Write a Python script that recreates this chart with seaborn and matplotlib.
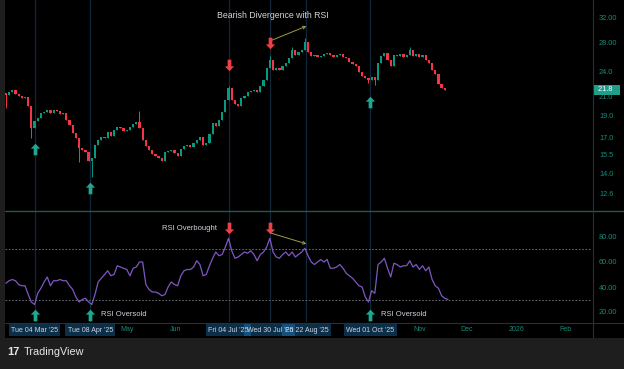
import matplotlib
matplotlib.use("Agg")
import matplotlib.pyplot as plt
import matplotlib.transforms as mtransforms
from matplotlib.path import Path
from matplotlib.patches import Rectangle
from matplotlib.lines import Line2D
from matplotlib.ticker import NullLocator
import numpy as np
import pandas as pd
import seaborn as sns

# 2-day candles (Feb 14 2025 -> Nov 19 2025)
start_date = "2025-02-14"
first_open = 21.4
close = [
    21.2, 21.6, 21.8, 21.3, 21.1, 20.9, 21.0, 20.0, 17.8, 18.5,
    18.8, 19.3, 19.4, 19.6, 19.3, 19.6, 19.5, 19.2, 19.3, 18.6,
    18.1, 17.4, 16.9, 16.05, 15.9, 15.7, 15.0, 15.2, 16.3, 16.75,
    17.0, 16.9, 17.5, 17.1, 17.65, 17.95, 17.85, 17.55, 17.65, 17.95,
    18.2, 18.4, 17.85, 16.75, 16.2, 15.9, 15.55, 15.4, 15.2, 15.0,
    15.7, 15.8, 15.9, 15.6, 15.4, 16.0, 16.2, 16.3, 16.1, 16.5,
    16.75, 17.0, 16.3, 16.5, 17.3, 18.3, 18.0, 18.6, 19.45, 20.67,
    22.0, 20.67, 20.25, 20.0, 20.9, 21.1, 21.55, 21.7, 21.8, 21.55,
    22.2, 23.0, 24.45, 25.5, 24.2, 24.45, 24.2, 24.7, 25.1, 25.8,
    26.9, 26.2, 26.6, 26.9, 28.0, 26.6, 26.0, 26.2, 25.9, 26.0,
    26.4, 26.5, 26.2, 25.9, 26.2, 26.4, 25.9, 25.8, 25.3, 25.0,
    24.7, 23.95, 23.45, 23.2, 22.97, 23.3, 22.97, 25.1, 26.0, 26.5,
    25.5, 24.7, 26.2, 26.0, 26.4, 25.9, 26.2, 26.9, 26.0, 26.4,
    25.9, 26.2, 25.5, 25.1, 24.2, 23.7, 22.5, 22.0, 21.8, 21.8,
]
rsi = [
    43, 45, 46, 45, 42, 41, 41, 34, 28, 26,
    35, 39, 44, 48, 41, 45, 45, 46, 45, 45,
    41, 38, 32, 28, 30, 31, 28, 26, 34, 44,
    47, 50, 53, 49, 50, 57, 56, 55, 54, 49,
    55, 56, 60, 60, 42, 38, 36, 36, 35, 33,
    34, 40, 44, 42, 41, 49, 53, 54, 54, 56,
    61, 58, 49, 50, 57, 63, 68, 65, 66, 72,
    79, 69, 63, 64, 66, 68, 67, 69, 66, 61,
    66, 68, 72, 79, 68, 64, 63, 66, 68, 65,
    68, 64, 66, 68, 71, 65, 60, 58, 60, 62,
    60, 62, 55, 55, 56, 58, 55, 51, 49, 47,
    44, 41, 40, 32, 28, 37, 35, 58, 60, 63,
    55, 48, 59, 58, 56, 57, 57, 61, 56, 58,
    54, 57, 53, 56, 46, 41, 39, 33, 31, 30,
]
# visible long wicks (bar index -> price)
wick_high = {42: 19.5, 70: 22.3, 83: 26.0, 90: 27.3, 94: 28.6, 127: 27.3}
wick_low = {0: 19.8, 8: 16.9, 23: 14.9, 27: 13.8, 114: 22.6, 116: 22.4}

price_ticks = [12.6, 14.0, 15.5, 17.0, 19.0, 21.0, 24.0, 28.0, 32.0]
price_labels = ["12.6", "14.0", "15.5", "17.0", "19.0", "21.0", "24.0", "28.00", "32.00"]
rsi_ticks = [20, 40, 60, 80]
rsi_labels = ["20.00", "40.00", "60.00", "80.00"]
month_ticks = ["2025-05-01", "2025-06-01", "2025-11-01", "2025-12-01", "2026-01-01", "2026-02-01"]
month_labels = ["May", "Jun", "Nov", "Dec", "2026", "Feb"]
event_dates = ["2025-03-04", "2025-04-08", "2025-07-04", "2025-07-30", "2025-08-22", "2025-10-01"]
event_labels = ["Tue 04 Mar '25", "Tue 08 Apr '25", "Fri 04 Jul '25",
                "Wed 30 Jul '25", "Fri 22 Aug '25", "Wed 01 Oct '25"]

# signal arrows
oversold_dates = ["2025-03-04", "2025-04-08", "2025-10-01"]
oversold_price_pos = [15.95, 13.0, 20.45]
overbought_dates = ["2025-07-04", "2025-07-30"]
overbought_price_pos = [24.85, 27.9]
rsi_top_pos = 87
rsi_bottom_pos = 17.6

UP = "#089981"
DOWN = "#f23645"
AX_TXT = "#1a8a7a"
TXT = "#d1d4dc"
OLIVE = "#a39b45"

sns.set_style("dark")
plt.rcParams["font.family"] = ["Liberation Sans", "DejaVu Sans"]

df = pd.DataFrame({
    "date": pd.date_range(start_date, periods=len(close), freq="2D"),
    "close": close,
    "rsi": rsi,
})
df["open"] = [first_open] + close[:-1]
df["high"] = [max(o, c, wick_high.get(i, 0)) for i, (o, c) in enumerate(zip(df.open, df.close))]
df["low"] = [min(o, c, wick_low.get(i, 1e9)) for i, (o, c) in enumerate(zip(df.open, df.close))]
colors = np.where(df.close >= df.open, UP, DOWN)

W, H = 624, 369
fx = lambda px: px / W
fy = lambda py: 1 - py / H

fig = plt.figure(figsize=(6.24, 3.69), dpi=100)
fig.patch.set_facecolor("#1e1e1e")
fig.add_artist(Rectangle((fx(5), fy(338)), 1 - fx(5), 338 / H, transform=fig.transFigure,
                         fc="black", ec="none", zorder=-1))

ax_p = fig.add_axes([fx(5), fy(211), 587 / W, 211 / H])
ax_r = fig.add_axes([fx(5), fy(322), 587 / W, 110 / H])

xlim = (pd.Timestamp("2025-02-13 10:00"), pd.Timestamp("2026-02-17 14:00"))
for ax in (ax_p, ax_r):
    ax.set_facecolor("black")
    for s in ax.spines.values():
        s.set_visible(False)
    ax.grid(False)
    for d in event_dates:
        ax.axvline(pd.Timestamp(d), color="#10263a", lw=0.9, zorder=1)

# price panel
ax_p.set_yscale("log")
ax_p.vlines(df.date, df.low, df.high, colors=colors, lw=0.7, zorder=3)
body_bottom = np.minimum(df.open, df.close)
body_h = np.maximum(np.abs(df.close - df.open), 0.04)
ax_p.bar(df.date, body_h, bottom=body_bottom, width=1.4, color=colors, lw=0, zorder=4)
ax_p.set_xlim(*xlim)
ax_p.set_ylim(11.52, 35.0)
ax_p.yaxis.tick_right()
ax_p.set_yticks(price_ticks)
ax_p.set_yticklabels(price_labels)
ax_p.yaxis.set_minor_locator(NullLocator())
ax_p.set_xticks([])
ax_p.tick_params(axis="y", length=0, pad=5, labelsize=5.3, labelcolor=AX_TXT)

up_arrow = Path([(0, 1), (0.8, 0.15), (0.32, 0.15), (0.32, -1), (-0.32, -1),
                 (-0.32, 0.15), (-0.8, 0.15), (0, 1)], closed=True)
down_arrow = Path([(x, -y) for x, y in up_arrow.vertices], closed=True)

ax_p.scatter(pd.to_datetime(oversold_dates), oversold_price_pos, marker=up_arrow,
             s=70, color="#1fa78f", lw=0, zorder=6)
ax_p.scatter(pd.to_datetime(overbought_dates), overbought_price_pos, marker=down_arrow,
             s=70, color="#eb4047", lw=0, zorder=6)

ax_p.text(pd.Timestamp("2025-08-01"), 32.3, "Bearish Divergence with RSI", ha="center",
          va="center", fontsize=6.3, color=TXT)
ax_p.annotate("", xy=(pd.Timestamp("2025-08-22"), 30.5), xytext=(pd.Timestamp("2025-07-31"), 28.3),
              arrowprops=dict(arrowstyle="->", color=OLIVE, lw=0.7, shrinkA=0, shrinkB=0,
                              mutation_scale=5))

tr = mtransforms.blended_transform_factory(ax_p.transAxes, ax_p.transData)
ax_p.text(1.006, close[-1], f" {close[-1]:.1f}   ", transform=tr, ha="left", va="center",
          fontsize=5.3, color="white", clip_on=False,
          bbox=dict(boxstyle="square,pad=0.25", fc="#1f9e89", ec="none"))

# RSI panel
sns.lineplot(x=df.date, y=df.rsi, ax=ax_r, color="#7e57c2", lw=0.9, zorder=4)
for lvl in (70, 30):
    ax_r.axhline(lvl, color="#787b86", ls=(0, (2, 2)), lw=0.6, zorder=2)
ax_r.set_xlim(*xlim)
ax_r.set_ylim(12, 100)
ax_r.set_xlabel("")
ax_r.set_ylabel("")
ax_r.yaxis.tick_right()
ax_r.set_yticks(rsi_ticks)
ax_r.set_yticklabels(rsi_labels)
ax_r.set_xticks(pd.to_datetime(month_ticks))
ax_r.set_xticklabels(month_labels)
ax_r.tick_params(axis="y", length=0, pad=5, labelsize=5.3, labelcolor=AX_TXT)
ax_r.tick_params(axis="x", length=0, pad=3, labelsize=5, labelcolor=AX_TXT)

ax_r.scatter(pd.to_datetime(overbought_dates), [rsi_top_pos] * len(overbought_dates),
             marker=down_arrow, s=70, color="#eb4047", lw=0, zorder=6)
ax_r.scatter(pd.to_datetime(oversold_dates), [rsi_bottom_pos] * len(oversold_dates),
             marker=up_arrow, s=70, color="#1fa78f", lw=0, zorder=6)
ax_r.text(pd.Timestamp("2025-06-27"), 87, "RSI Overbought", ha="right", va="center",
          fontsize=5.5, color=TXT)
ax_r.text(pd.Timestamp("2025-04-15"), 17.6, "RSI Oversold", ha="left", va="center",
          fontsize=5.5, color=TXT)
ax_r.text(pd.Timestamp("2025-10-08"), 17.6, "RSI Oversold", ha="left", va="center",
          fontsize=5.5, color=TXT)
ax_r.annotate("", xy=(pd.Timestamp("2025-08-22"), 74.5), xytext=(pd.Timestamp("2025-07-31"), 83),
              arrowprops=dict(arrowstyle="->", color=OLIVE, lw=0.7, shrinkA=0, shrinkB=0,
                              mutation_scale=5))

# highlighted date labels on the time axis
for d, lab in zip(event_dates, event_labels):
    ax_r.text(pd.Timestamp(d), -0.073, lab, transform=ax_r.get_xaxis_transform(),
              ha="center", va="center", fontsize=5, color=TXT, clip_on=False, zorder=10,
              bbox=dict(boxstyle="square,pad=0.35", fc="#2a9df4", alpha=0.3, ec="none"))

# panel separators
fig.add_artist(Line2D([fx(5), 1], [fy(211.5)] * 2, color="#1d5a50", lw=1))
fig.add_artist(Line2D([fx(5), 1], [fy(322.5)] * 2, color="#2a2e39", lw=0.8))
fig.add_artist(Line2D([fx(592.5)] * 2, [fy(338), 1], color="#2a2e39", lw=0.8))

# footer logo
fig.text(fx(7), fy(352), "17", fontsize=8, weight="bold", color="#e6e6e6", va="center")
fig.text(fx(24), fy(352), "TradingView", fontsize=7.8, color="#e6e6e6", va="center")

fig.savefig("out.png", dpi=100, facecolor=fig.get_facecolor())
